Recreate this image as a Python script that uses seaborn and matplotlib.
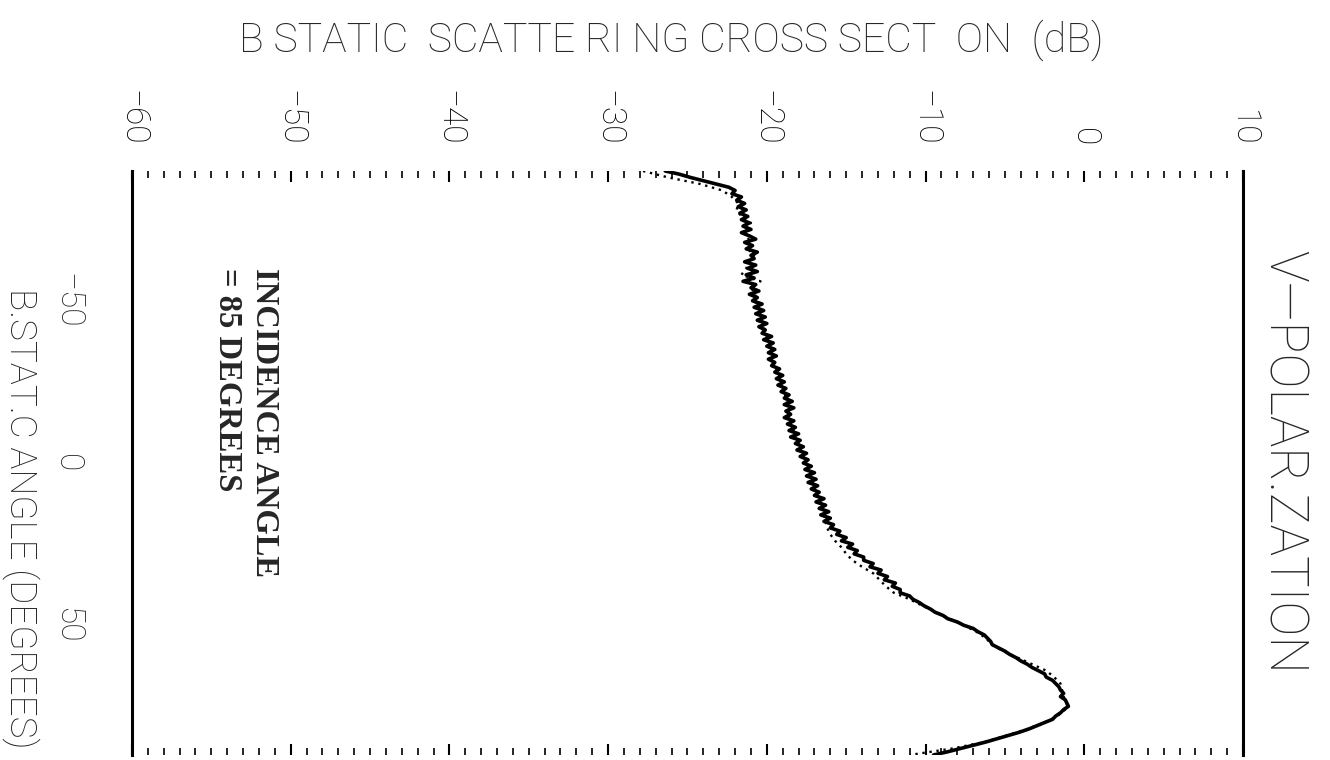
import numpy as np
import matplotlib
matplotlib.use("Agg")
import matplotlib.pyplot as plt
import seaborn as sns
from matplotlib.ticker import MultipleLocator

# ---------------- data ----------------
angle_solid = np.arange(-90, 91, 1)
db_solid = [
    -26.4, -25.5, -24.8, -24.0, -23.2, -22.4, -22.0, -22.2, -21.6, -21.9,
    -21.4, -21.8, -21.3, -21.7, -21.2, -21.6, -21.1, -21.5, -21.0, -21.6,
    -21.1, -20.7, -21.4, -20.9, -21.3, -20.6, -21.0, -20.8, -21.4, -20.7,
    -21.2, -20.6, -21.3, -20.8, -21.5, -20.7, -21.0, -20.5, -21.1, -20.6,
    -20.9, -20.3, -20.8, -20.2, -20.7, -20.1, -20.6, -20.0, -20.5, -20.1,
    -20.3, -19.7, -20.2, -19.6, -20.0, -19.5, -19.9, -19.4, -19.9, -19.5,
    -19.7, -19.2, -19.5, -19.0, -19.4, -18.9, -19.3, -18.8, -19.1, -18.6,
    -18.9, -18.4, -18.9, -18.3, -18.8, -18.5, -18.9, -18.3, -18.7, -18.2,
    -18.6, -18.0, -18.5, -17.9, -18.2, -17.7, -18.1, -17.5, -17.9, -17.4,
    -17.7, -17.2, -17.6, -17.0, -17.5, -16.9, -17.4, -16.8, -17.2, -16.7,
    -17.0, -16.4, -16.9, -16.3, -16.7, -16.1, -16.6, -16.0, -16.4, -15.8,
    -16.0, -15.4, -15.6, -15.0, -15.3, -14.6, -14.9, -14.3, -14.5, -13.9,
    -13.9, -13.3, -13.5, -12.8, -13.0, -12.4, -12.6, -11.9, -12.1, -11.6,
    -11.6, -11.0, -10.8, -10.4, -10.1, -9.7, -9.4, -8.9, -8.6, -8.0,
    -7.6, -7.0, -6.7, -6.3, -6.1, -5.9, -5.8, -5.4, -5.0, -4.7,
    -4.3, -4.0, -3.6, -3.3, -2.9, -2.5, -2.4, -2.0, -1.8, -1.6,
    -1.5, -1.3, -1.5, -1.2, -1.1, -1.0, -1.3, -1.5, -1.8, -2.0,
    -2.5, -3.0, -3.5, -4.1, -4.8, -5.5, -6.2, -7.0, -7.8, -8.6, -9.5,
]
angle_dotted = np.arange(-90, 91, 2)
db_dotted = [
    -27.8, -26.2, -24.2, -22.8, -22.2, -21.8, -21.9, -21.6, -21.0, -21.5,
    -21.3, -21.0, -21.2, -20.8, -21.1, -21.3, -21.6, -20.4, -21.0, -20.7,
    -20.8, -20.5, -20.4, -20.3, -20.2, -20.1, -19.9, -19.8, -19.6, -19.6,
    -19.5, -19.3, -19.1, -19.0, -18.9, -18.8, -18.7, -18.6, -18.6, -18.5,
    -18.3, -18.2, -18.0, -17.9, -17.7, -17.6, -17.4, -17.3, -17.1, -17.0,
    -16.8, -16.7, -16.5, -16.4, -16.3, -16.2, -16.0, -15.7, -15.3, -15.0,
    -14.6, -14.0, -13.3, -12.9, -12.5, -12.0, -11.0, -10.2, -9.3, -8.5,
    -7.6, -6.8, -6.2, -5.8, -5.1, -4.2, -3.3, -2.4, -1.9, -1.5,
    -1.4, -1.3, -1.1, -1.2, -1.7, -2.5, -3.6, -4.9, -6.3, -8.3, -11.0,
]
db_ticks = [-60, -50, -40, -30, -20, -10, 0, 10]
db_tick_labels = ["\u221260", "\u221250", "\u221240", "\u221230",
                  "\u221220", "\u221210", "0", "10"]
angle_ticks = [-50, 0, 50]
angle_tick_labels = ["\u221250", "0", "50"]

title_text = "B STATIC  SCATTE RI NG CROSS SECT  ON  (dB)"
xlabel_text = "B.STAT.C ANGLE (DEGREES)"
pol_text = "V\u2014POLAR.ZATION"
note_line1 = "INCIDENCE ANGLE"
note_line2 = "= 85 DEGREES"

# ---------------- figure ----------------
sns.set_theme(style="white")
plt.rcParams["font.family"] = ["Roboto", "DejaVu Sans"]

fig = plt.figure(figsize=(13.3, 7.6), dpi=100)
ax = fig.add_axes([0.0992, 0.0066, 0.8354, 0.7684])

sns.lineplot(x=db_dotted, y=angle_dotted, sort=False, estimator=None,
             color="black", linewidth=1.7, linestyle=(0, (1, 2)), ax=ax)
sns.lineplot(x=db_solid, y=angle_solid, sort=False, estimator=None,
             color="black", linewidth=2.6, ax=ax)

ax.set_xlim(-60, 10)
ax.set_ylim(90, -90)

for side in ("top", "bottom"):
    ax.spines[side].set_visible(False)
for side in ("left", "right"):
    ax.spines[side].set_visible(True)
    ax.spines[side].set_color("black")
    ax.spines[side].set_linewidth(2.2)

ax.set_xticks(db_ticks)
ax.xaxis.set_minor_locator(MultipleLocator(1))
ax.set_xticklabels(db_tick_labels, rotation=-90, ha="center", va="bottom",
                   fontsize=24, fontweight="light")
ax.tick_params(axis="x", which="both", direction="in", top=True, bottom=True,
               labeltop=True, labelbottom=False, colors="black")
ax.tick_params(axis="x", which="major", length=8, width=1.5, pad=18)
ax.tick_params(axis="x", which="minor", length=5, width=1.2)

ax.set_yticks(angle_ticks)
ax.set_yticklabels(angle_tick_labels, rotation=-90, ha="right", va="center",
                   fontsize=24, fontweight="light")
ax.tick_params(axis="y", which="both", length=0, pad=35, left=True, right=False)
ax.set_xlabel("")
ax.set_ylabel("")
ax.grid(False)

fig.text(0.505, 1 - 40 / 760, title_text, ha="center", va="center",
         fontsize=29.5, fontweight="light")
fig.text(21 / 1330, 1 - 518 / 760, xlabel_text, rotation=-90, ha="center",
         va="center", fontsize=26.5, fontweight="light")
fig.text(1283 / 1330, 1 - 462 / 760, pol_text, rotation=-90, ha="center",
         va="center", fontsize=38, fontweight="light")

ax.text(265 / 1330, 1 - 268 / 760, note_line1, transform=fig.transFigure,
        rotation=-90, ha="center", va="top", fontsize=23.5, fontweight="bold",
        family=["Liberation Serif", "DejaVu Serif"])
ax.text(227 / 1330, 1 - 268 / 760, note_line2, transform=fig.transFigure,
        rotation=-90, ha="center", va="top", fontsize=23.5, fontweight="bold",
        family=["Liberation Serif", "DejaVu Serif"])

fig.savefig("out.png", dpi=100, facecolor="white")
